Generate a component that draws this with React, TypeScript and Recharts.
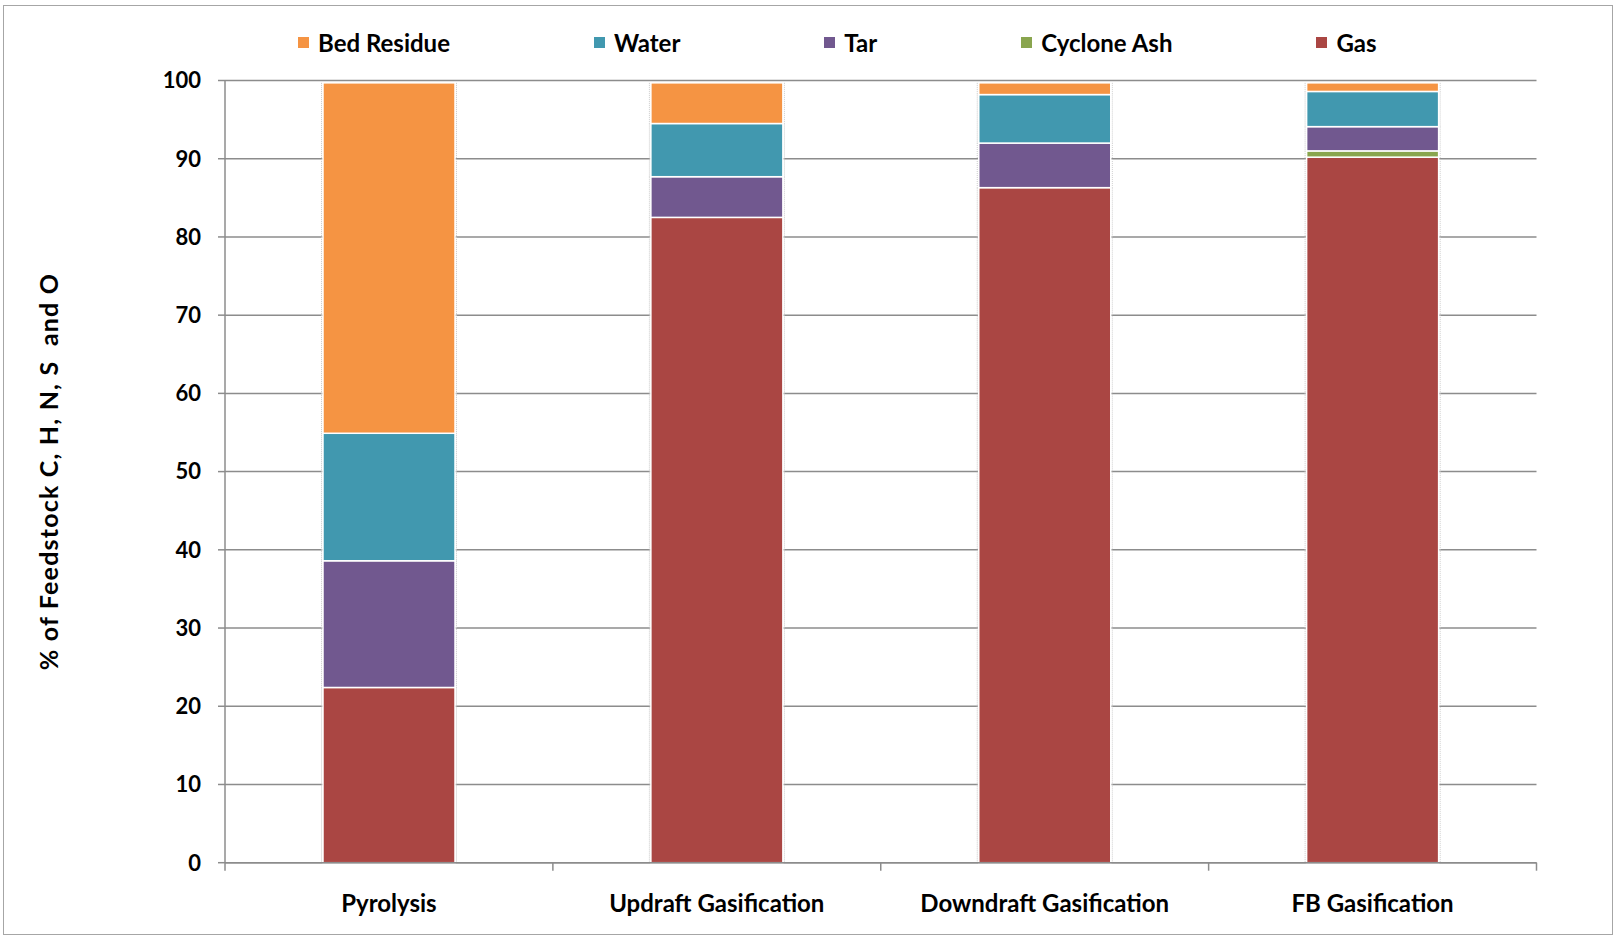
import { Bar, BarChart, CartesianGrid, Legend, XAxis, YAxis } from 'recharts';

const categories = ['Pyrolysis', 'Updraft Gasification', 'Downdraft Gasification', 'FB Gasification'];
const gas = [22.4, 82.5, 86.3, 90.2];
const cycloneAsh = [0, 0, 0, 0.8];
const tar = [16.2, 5.2, 5.7, 3.1];
const water = [16.3, 6.8, 6.2, 4.5];
const bedResidue = [44.8, 5.2, 1.5, 1.1];
const yTicks = [0, 10, 20, 30, 40, 50, 60, 70, 80, 90, 100];

// bottom-to-top stacking order
const series = [
  { key: 'gas', name: 'Gas', color: '#AA4643', values: gas },
  { key: 'cycloneAsh', name: 'Cyclone Ash', color: '#89A54E', values: cycloneAsh },
  { key: 'tar', name: 'Tar', color: '#71588F', values: tar },
  { key: 'water', name: 'Water', color: '#4198AF', values: water },
  { key: 'bedResidue', name: 'Bed Residue', color: '#F59443', values: bedResidue },
];
const legendOrder = ['bedResidue', 'water', 'tar', 'cycloneAsh', 'gas'];

const rows = categories.map((name, i) => {
  const row: Record<string, string | number> = { name };
  series.forEach((s) => {
    row[s.key] = s.values[i];
  });
  return row;
});

const FONT = 'Lato, "Open Sans", sans-serif';
const GRID = '#8c8c8c';
const CHART_W = 1618;
const CHART_H = 938;
const MARGIN = { top: 80.5, right: 81.5, bottom: 74.3, left: 0 };
const Y_AXIS_W = 225;
const X_LABEL_GAP = 32;
const X_TICK_LEN = 8;

function Segment(props: any) {
  const { x, y, width, height, fill } = props;
  if (!height || height <= 0) return null;
  return (
    <g>
      <line x1={x - 1.5} x2={x - 1.5} y1={y} y2={y + height} stroke="#c8c8c8" strokeDasharray="1 1" />
      <line
        x1={x + width + 1.5}
        x2={x + width + 1.5}
        y1={y}
        y2={y + height}
        stroke="#c8c8c8"
        strokeDasharray="1 1"
      />
      <rect x={x} y={y} width={width} height={height} fill={fill} stroke="#fff" strokeWidth={1.5} />
    </g>
  );
}

// category label plus tick marks on the band edges (Excel style)
function CategoryTick(props: any) {
  const { x, y, payload, index, visibleTicksCount } = props;
  const fallback = (CHART_W - Y_AXIS_W - MARGIN.right) / categories.length / 2;
  const half = payload?.offset > 0 ? payload.offset : fallback;
  const axisY = y - X_LABEL_GAP;
  const isLast = index === (visibleTicksCount ?? categories.length) - 1;
  return (
    <g>
      <line x1={x - half} x2={x - half} y1={axisY} y2={axisY + X_TICK_LEN} stroke={GRID} strokeWidth={1.5} />
      {isLast && (
        <line x1={x + half} x2={x + half} y1={axisY} y2={axisY + X_TICK_LEN} stroke={GRID} strokeWidth={1.5} />
      )}
      <text
        x={x}
        y={y}
        dy="0.71em"
        textAnchor="middle"
        fontSize={24}
        fontWeight={700}
        fill="#000"
        fontFamily={FONT}
      >
        {payload.value}
      </text>
    </g>
  );
}

function LegendRow() {
  return (
    <div style={{ display: 'flex', alignItems: 'center', gap: 144, fontFamily: FONT }}>
      {legendOrder.map((k) => {
        const s = series.find((d) => d.key === k)!;
        return (
          <span key={k} style={{ display: 'inline-flex', alignItems: 'center', gap: 9 }}>
            <span style={{ display: 'inline-block', width: 11, height: 11, background: s.color }} />
            <span style={{ fontSize: 24, fontWeight: 700, color: '#000', whiteSpace: 'nowrap' }}>{s.name}</span>
          </span>
        );
      })}
    </div>
  );
}

export default function App() {
  return (
    <div style={{ position: 'absolute', left: 0, top: 0, width: CHART_W, height: CHART_H, background: '#fff' }}>
      <div
        style={{
          position: 'absolute',
          left: 3,
          top: 5,
          width: 1610,
          height: 930,
          border: '1.5px solid #a6a6a6',
          boxSizing: 'border-box',
        }}
      />
      <BarChart width={CHART_W} height={CHART_H} data={rows} margin={MARGIN} style={{ fontFamily: FONT }}>
        <CartesianGrid vertical={false} stroke={GRID} strokeWidth={1.5} />
        <XAxis
          dataKey="name"
          height={1}
          interval={0}
          tickLine={false}
          axisLine={{ stroke: GRID, strokeWidth: 1.5 }}
          tickSize={0}
          tickMargin={X_LABEL_GAP}
          tick={<CategoryTick />}
        />
        <YAxis
          width={Y_AXIS_W}
          domain={[0, 100]}
          ticks={yTicks}
          interval={0}
          axisLine={{ stroke: GRID, strokeWidth: 1.5 }}
          tickLine={{ stroke: GRID, strokeWidth: 1.5 }}
          tickSize={7}
          tickMargin={17}
          tick={{ fontSize: 22, fontWeight: 700, fill: '#000', fontFamily: FONT }}
          label={{
            content: ({ viewBox }: any) => (
              <text
                transform={`translate(${viewBox.x + 48}, ${viewBox.y + viewBox.height / 2}) rotate(-90)`}
                textAnchor="middle"
                dominantBaseline="central"
                fontSize={25}
                fontWeight={700}
                letterSpacing={1.2}
                fill="#000"
                fontFamily={FONT}
                style={{ whiteSpace: 'pre' }}
              >
                % of Feedstock C, H, N, S  and O
              </text>
            ),
          }}
        />
        <Legend
          layout="horizontal"
          verticalAlign="middle"
          align="center"
          wrapperStyle={{ top: 28, left: 298, width: 'auto' }}
          content={() => <LegendRow />}
        />
        {series.map((s) => (
          <Bar
            key={s.key}
            dataKey={s.key}
            name={s.name}
            stackId="total"
            fill={s.color}
            barSize={132}
            shape={<Segment />}
            isAnimationActive={false}
          />
        ))}
      </BarChart>
      <style>{'body { margin: 0; }'}</style>
    </div>
  );
}
